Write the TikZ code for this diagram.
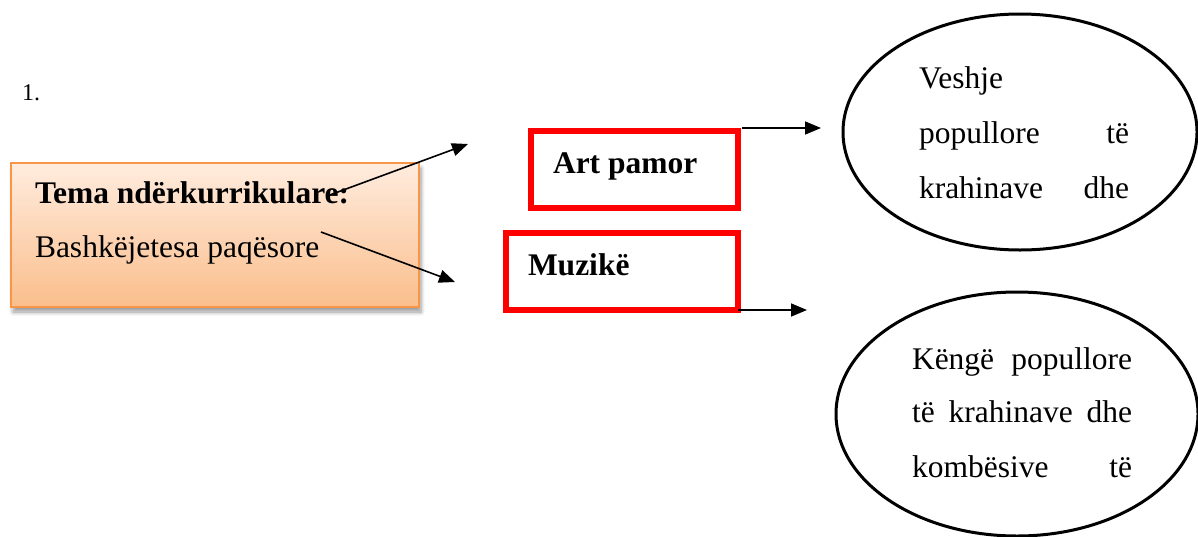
\documentclass[tikz,border=0pt]{standalone}
\usepackage{fontspec}
\setmainfont{Liberation Serif}
\usetikzlibrary{arrows.meta,shapes.geometric,shadows.blur,calc}
\definecolor{boxborder}{RGB}{247,150,70}
\definecolor{boxtop}{RGB}{255,236,222}
\definecolor{boxbot}{RGB}{250,190,140}
\definecolor{redline}{RGB}{255,0,0}
\tikzset{
  every node/.style={font=\fontsize{31.5pt}{38pt}\selectfont, inner sep=0pt, outer sep=0pt},
  txt/.style={anchor=base west},
  orangebox/.style={rectangle, draw=boxborder, line width=2pt, top color=boxtop, bottom color=boxbot,
     blur shadow={shadow xshift=2pt, shadow yshift=-5pt, shadow blur steps=6, shadow blur radius=4pt, shadow opacity=40}},
  redbox/.style={rectangle, draw=redline, line width=6pt},
  oval/.style={ellipse, draw=black, line width=3pt},
  arr/.style={line width=1.6pt, -{Triangle[length=16pt,width=13pt]}}
}
\begin{document}
\begin{tikzpicture}[x=1pt,y=-1pt]
\useasboundingbox (0,0) rectangle (1198,536);
\clip (0,0) rectangle (1198,536);
% number
\node[txt, font=\fontsize{24pt}{28pt}\selectfont] (num) at (22,100) {1.};
% orange box
\node[orangebox, minimum width=408pt, minimum height=144pt] (tema) at (215,235) {};
\node[txt] (temat) at (35,203) {\bfseries Tema ndërkurrikulare:};
\node[txt] (bashk) at (35,257) {Bashkëjetesa paqësore};
% red boxes
\node[redbox, minimum width=207pt, minimum height=77pt] (art) at (634.5,169.5) {};
\node[txt] (artt) at (553,173) {\bfseries Art pamor};
\node[redbox, minimum width=232pt, minimum height=77pt] (muz) at (622,271.5) {};
\node[txt] (muzt) at (528,275) {\bfseries Muzikë};
% ellipses
\node[oval, minimum width=354pt, minimum height=236pt] (e1) at (1020,132) {};
\node[txt] (e1a) at (919,88) {Veshje};
\node[txt] (e1b) at (919,143) {\makebox[210pt][l]{popullore\hfill të}};
\node[txt] (e1c) at (919,198) {\makebox[210pt][l]{krahinave\hfill dhe}};
\node[oval, minimum width=362pt, minimum height=244pt] (e2) at (1017,414) {};
\node[txt] (e2a) at (912,369) {\makebox[220pt][s]{Këngë popullore}};
\node[txt] (e2b) at (912,422) {\makebox[220pt][s]{të krahinave dhe}};
\node[txt] (e2c) at (912,477) {\makebox[220pt][l]{kombësive\hfill të}};
% connector ends
\coordinate (d1s) at (327,196);
\coordinate (d1e) at (468,144);
\coordinate (d2s) at (321,232);
\coordinate (d2e) at (455,282);
\coordinate (h1e) at (821,128);
\coordinate (h2e) at (807,310);
% arrows
\draw[arr] (d1s) -- (d1e);
\draw[arr] (d2s) -- (d2e);
\draw[arr] ($(art.north east)+(4,-3)$) -- (h1e);
\draw[arr] (muz.south east) -- (h2e);
\end{tikzpicture}
\end{document}
